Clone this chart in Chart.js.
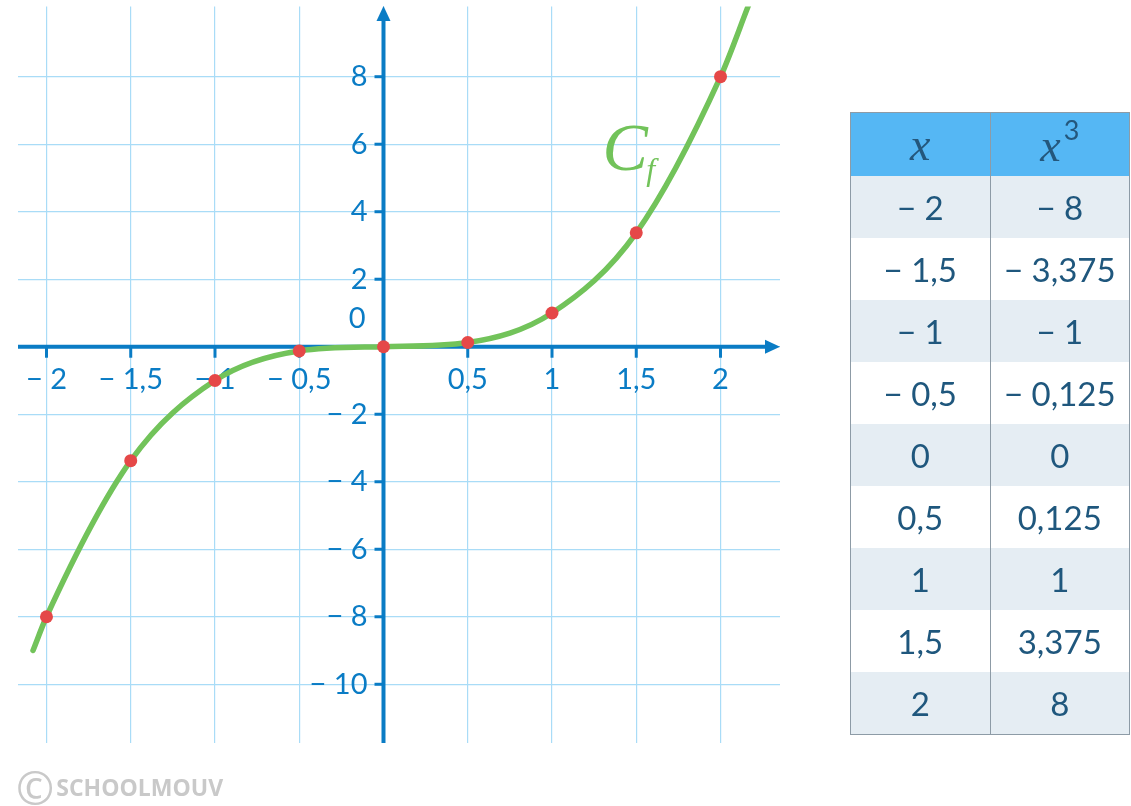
<!DOCTYPE html>
<html>
<head>
<meta charset="utf-8">
<script src="https://cdn.jsdelivr.net/npm/chart.js@4.4.1/dist/chart.umd.min.js"></script>
<style>
  html, body { margin: 0; padding: 0; background: #fff; }
  #wrap { position: relative; width: 1131px; height: 806px; overflow: hidden; }
  #plot { position: absolute; left: 0; top: 0; }
  table.values {
    position: absolute; left: 850px; top: 112px; width: 280px;
    border-collapse: collapse; font-family: Lato, sans-serif; color: #1f577d;
  }
  table.values td, table.values th {
    border-left: 1.5px solid #8d9ba6; border-right: 1.5px solid #8d9ba6;
    text-align: center; height: 62px; padding: 0; font-size: 33px; font-weight: 400;
    width: 50%;
  }
  table.values th { background: #55b7f4; height: 63px; font-weight: 400; }
  table.values tr:last-child td { border-bottom: 1.5px solid #8d9ba6; }
  table.values tr:first-child th { border-top: 1.5px solid #8d9ba6; }
  table.values tbody tr:nth-child(odd) td { background: #e5edf3; }
  table.values tbody tr:nth-child(even) td { background: #fff; }
  .mx { font-family: "Liberation Serif", serif; font-style: italic; font-size: 46px; color: #24577c; }
  .mx sup { font-family: Lato, sans-serif; font-style: normal; font-size: 27px; position: relative; top: -4px; margin-left: 3px; }
  #mark {
    position: absolute; left: 16px; top: 767px; height: 40px; display: flex; align-items: center;
    color: #c9c9c9; font-family: "Open Sans", sans-serif; font-weight: 700; white-space: nowrap;
  }
  #mark .c { font-size: 46px; line-height: 40px; font-weight: 400; margin-right: 2px; }
  #mark .t { font-size: 23px; line-height: 40px; }
</style>
</head>
<body>
<div id="wrap">
  <canvas id="plot" width="1131" height="806"></canvas>
  <table class="values" id="tbl"></table>
  <div id="mark"><span class="c">©</span><span class="t">SCHOOLMOUV</span></div>
</div>
<script>
// values from the table
const xs = [-2, -1.5, -1, -0.5, 0, 0.5, 1, 1.5, 2];
const ys = [-8, -3.375, -1, -0.125, 0, 0.125, 1, 3.375, 8];

// curve runs a little past the table points at both ends
const curveX = [-2.08, -2, -1.5, -1, -0.5, 0, 0.5, 1, 1.5, 2, 2.165];
const curveY = [-9.0, -8, -3.375, -1, -0.125, 0, 0.125, 1, 3.375, 8, 10.1];

// grid / tick positions and their labels
const gridX = [-2, -1.5, -1, -0.5, 0, 0.5, 1, 1.5, 2];
const gridY = [-10, -8, -6, -4, -2, 0, 2, 4, 6, 8];
const xTickVals = [-2, -1.5, -1, -0.5, 0.5, 1, 1.5, 2];
const xTickLabels = ['− 2', '− 1,5', '− 1', '− 0,5', '0,5', '1', '1,5', '2'];
const yTickVals = [-10, -8, -6, -4, -2, 2, 4, 6, 8];
const yTickLabels = ['− 10', '− 8', '− 6', '− 4', '− 2', '2', '4', '6', '8'];

const AXIS = '#0a7cc5';
const GREEN = '#72c35a';
const RED = '#e54848';

// table
const fmt = v => (v < 0 ? '− ' : '') + String(Math.abs(v)).replace('.', ',');
let html = '<thead><tr><th><span class="mx">x</span></th><th><span class="mx">x<sup>3</sup></span></th></tr></thead><tbody>';
xs.forEach((x, i) => { html += '<tr><td>' + fmt(x) + '</td><td>' + fmt(ys[i]) + '</td></tr>'; });
document.getElementById('tbl').innerHTML = html + '</tbody>';

const axesPlugin = {
  id: 'axes',
  beforeDatasetsDraw(chart) {
    const ctx = chart.ctx;
    const sx = chart.scales.x, sy = chart.scales.y;
    const a = chart.chartArea;
    const ox = sx.getPixelForValue(0), oy = sy.getPixelForValue(0);
    ctx.save();
    ctx.strokeStyle = AXIS; ctx.fillStyle = AXIS;
    ctx.lineWidth = 4;
    // x axis
    ctx.beginPath(); ctx.moveTo(a.left, oy); ctx.lineTo(a.right - 12, oy); ctx.stroke();
    ctx.beginPath(); ctx.moveTo(a.right, oy); ctx.lineTo(a.right - 15, oy - 7); ctx.lineTo(a.right - 15, oy + 7); ctx.closePath(); ctx.fill();
    // y axis
    ctx.beginPath(); ctx.moveTo(ox, a.bottom); ctx.lineTo(ox, 20); ctx.stroke();
    ctx.beginPath(); ctx.moveTo(ox, 6); ctx.lineTo(ox - 7, 21); ctx.lineTo(ox + 7, 21); ctx.closePath(); ctx.fill();
    // tick marks
    ctx.lineWidth = 3;
    xTickVals.forEach(v => {
      const p = sx.getPixelForValue(v);
      ctx.beginPath(); ctx.moveTo(p, oy); ctx.lineTo(p, oy + 11); ctx.stroke();
    });
    yTickVals.forEach(v => {
      const p = sy.getPixelForValue(v);
      ctx.beginPath(); ctx.moveTo(ox, p); ctx.lineTo(ox - 9, p); ctx.stroke();
    });
    // labels
    ctx.font = '29px Lato, sans-serif';
    ctx.textBaseline = 'middle';
    ctx.textAlign = 'center';
    xTickVals.forEach((v, i) => ctx.fillText(xTickLabels[i], sx.getPixelForValue(v), oy + 33));
    ctx.textAlign = 'right';
    yTickVals.forEach((v, i) => ctx.fillText(yTickLabels[i], ox - 16, sy.getPixelForValue(v)));
    ctx.fillText('0', ox - 18, oy - 28);
    ctx.restore();
  },
  afterDatasetsDraw(chart) {
    const ctx = chart.ctx;
    const sx = chart.scales.x, sy = chart.scales.y;
    ctx.save();
    ctx.fillStyle = GREEN;
    ctx.textBaseline = 'alphabetic';
    ctx.textAlign = 'left';
    ctx.font = 'italic 68px "Liberation Serif", serif';
    ctx.fillText('C', sx.getPixelForValue(1.3), sy.getPixelForValue(5.25));
    ctx.font = 'italic 32px "Liberation Serif", serif';
    ctx.fillText('f', sx.getPixelForValue(1.56), sy.getPixelForValue(4.95));
    ctx.restore();
  }
};

new Chart(document.getElementById('plot'), {
  type: 'scatter',
  data: {
    datasets: [
      {
        data: xs.map((x, i) => ({ x: x, y: ys[i] })),
        showLine: false,
        pointRadius: 6.5,
        pointBackgroundColor: RED,
        pointBorderWidth: 0,
        order: 0
      },
      {
        data: curveX.map((x, i) => ({ x: x, y: curveY[i] })),
        showLine: true,
        borderColor: GREEN,
        borderWidth: 5.5,
        borderCapStyle: 'round',
        cubicInterpolationMode: 'monotone',
        pointRadius: 0,
        order: 1
      }
    ]
  },
  options: {
    responsive: false,
    animation: false,
    devicePixelRatio: 1,
    layout: { padding: { left: 18, top: 3, right: 351, bottom: 63 } },
    plugins: { legend: { display: false }, tooltip: { enabled: false } },
    scales: {
      x: {
        type: 'linear', min: -2.169, max: 2.353,
        afterBuildTicks: s => { s.ticks = gridX.map(v => ({ value: v })); },
        ticks: { display: false },
        border: { display: false },
        grid: { color: '#a9dcf7', lineWidth: 1.2, drawTicks: false }
      },
      y: {
        type: 'linear', min: -11.74, max: 10.08,
        afterBuildTicks: s => { s.ticks = gridY.map(v => ({ value: v })); },
        ticks: { display: false },
        border: { display: false },
        grid: { color: '#a9dcf7', lineWidth: 1.2, drawTicks: false }
      }
    }
  },
  plugins: [axesPlugin]
});
</script>
</body>
</html>
